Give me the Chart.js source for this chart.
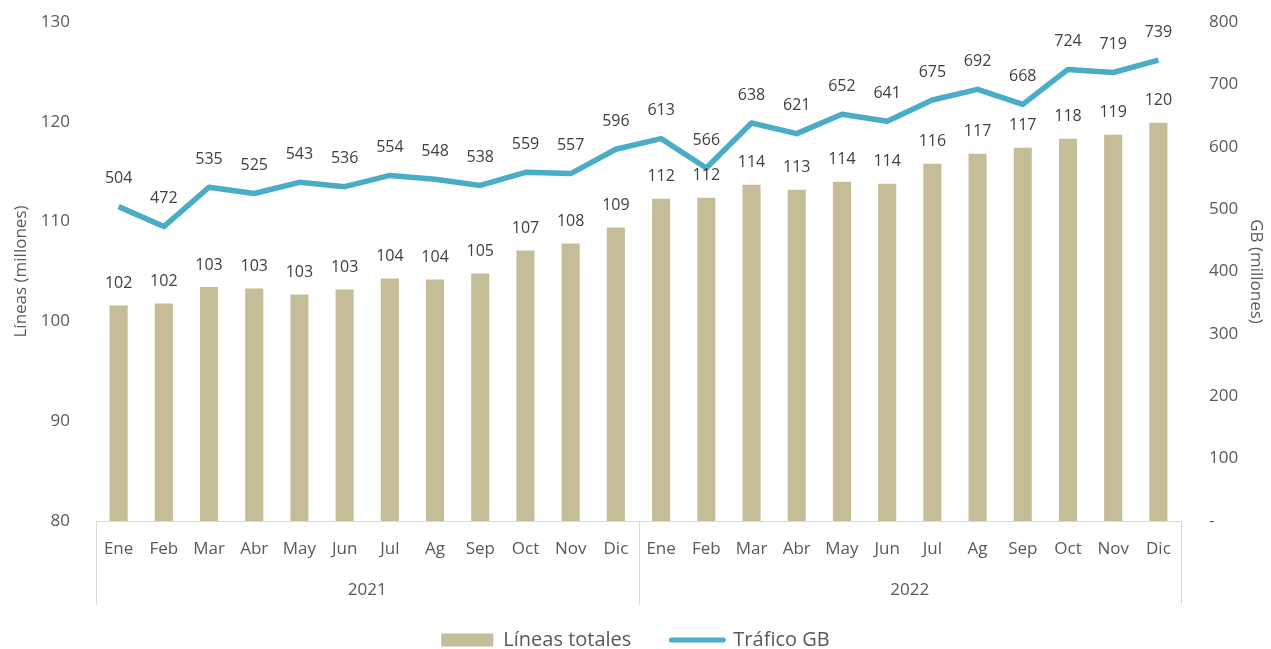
<!DOCTYPE html>
<html>
<head>
<meta charset="utf-8">
<script src="https://cdn.jsdelivr.net/npm/chart.js@4.4.0/dist/chart.umd.min.js"></script>
<style>
  body{margin:0;background:#fff;}
</style>
</head>
<body>
<canvas id="myChart" width="1271" height="649"></canvas>
<script>
// data
var months=["Ene","Feb","Mar","Abr","May","Jun","Jul","Ag","Sep","Oct","Nov","Dic"];
var years=["2021","2022"];
var lineas=[101.6,101.8,103.45,103.3,102.7,103.2,104.3,104.2,104.8,107.1,107.8,109.4,
            112.3,112.4,113.7,113.2,114.0,113.8,115.8,116.8,117.4,118.3,118.7,119.9];
var trafico=[504,472,535,525,543,536,554,548,538,559,557,596,
             613,566,638,621,652,641,675,692,668,724,719,739];
var leftTicks=[80,90,100,110,120,130];
var rightTicks=[0,100,200,300,400,500,600,700,800];

Chart.defaults.font.family="'Open Sans', sans-serif";
Chart.defaults.color="#595959";

// numbers above bars and line points
var valueLabels={
  id:"valueLabels",
  afterDatasetsDraw:function(chart){
    var ctx=chart.ctx;
    ctx.save();
    ctx.font="16px 'Open Sans'";
    ctx.fillStyle="#404040";
    ctx.textAlign="center";
    ctx.textBaseline="middle";
    chart.data.datasets.forEach(function(ds,i){
      var meta=chart.getDatasetMeta(i);
      var off=ds.type==="line"?28:22;
      meta.data.forEach(function(el,j){
        ctx.fillText(Math.round(ds.data[j]),el.x,el.y-off);
      });
    });
    ctx.restore();
  }
};

// second row of the x axis: years with separators
var yearGroups={
  id:"yearGroups",
  afterDraw:function(chart){
    var ctx=chart.ctx, x=chart.scales.x, area=chart.chartArea;
    var top=area.bottom, bottom=area.bottom+84;
    var edges=[area.left];
    for(var g=1;g<years.length;g++){
      edges.push((x.getPixelForValue(g*12-1)+x.getPixelForValue(g*12))/2);
    }
    edges.push(area.right);
    ctx.save();
    ctx.strokeStyle="#D9D9D9";
    ctx.lineWidth=1;
    edges.forEach(function(e){
      var px=Math.round(e)+0.5;
      ctx.beginPath();
      ctx.moveTo(px,top);
      ctx.lineTo(px,bottom);
      ctx.stroke();
    });
    ctx.fillStyle="#595959";
    ctx.font="17px 'Open Sans'";
    ctx.textAlign="center";
    ctx.textBaseline="middle";
    years.forEach(function(y,i){
      ctx.fillText(y,(edges[i]+edges[i+1])/2,area.bottom+69);
    });
    ctx.restore();
  }
};

// fixed axis sizes, no extra padding from tick labels
function fixWidth(w){
  return function(s){
    s.width=w;
    s.paddingTop=10;
    s.paddingBottom=10;
  };
}

var myChart=document.getElementById("myChart").getContext("2d");
var chart=new Chart(myChart,{
  type:"bar",
  data:{
    labels:months.concat(months),
    datasets:[
      {
        type:"bar",
        label:"Líneas totales",
        data:lineas,
        yAxisID:"y",
        backgroundColor:"#C4BD97",
        barPercentage:0.4,
        categoryPercentage:1,
        order:1
      },
      {
        type:"line",
        label:"Tráfico GB",
        data:trafico,
        yAxisID:"y1",
        borderColor:"#4BACC6",
        backgroundColor:"#4BACC6",
        borderWidth:5.5,
        borderJoinStyle:"round",
        pointRadius:0,
        tension:0,
        order:0
      }
    ]
  },
  options:{
    responsive:false,
    animation:false,
    layout:{padding:{top:22,bottom:-11,left:0,right:0}},
    plugins:{
      tooltip:{enabled:false},
      legend:{
        position:"bottom",
        labels:{
          usePointStyle:true,
          pointStyleWidth:52,
          boxHeight:13,
          padding:40,
          color:"#595959",
          font:{size:20},
          generateLabels:function(chart){
            return chart.data.datasets.map(function(ds,i){
              var isLine=ds.type==="line";
              return {
                text:ds.label,
                fillStyle:isLine?ds.borderColor:ds.backgroundColor,
                strokeStyle:isLine?ds.borderColor:ds.backgroundColor,
                lineWidth:isLine?5:0,
                lineCap:"round",
                pointStyle:isLine?"line":"rect",
                fontColor:"#595959",
                datasetIndex:i
              };
            });
          }
        }
      }
    },
    scales:{
      x:{
        grid:{drawOnChartArea:false,drawTicks:false},
        border:{display:true,color:"#D9D9D9",width:1},
        ticks:{color:"#595959",font:{size:17},padding:18,maxRotation:0,autoSkip:false},
        afterFit:function(s){s.height=69;}
      },
      y:{
        position:"left",
        min:leftTicks[0],
        max:leftTicks[leftTicks.length-1],
        grid:{display:false},
        border:{display:false},
        afterBuildTicks:function(s){s.ticks=leftTicks.map(function(v){return {value:v};});},
        ticks:{color:"#595959",font:{size:17},padding:18},
        title:{display:true,text:"Líneas (millones)",color:"#595959",font:{size:17},padding:{top:11,bottom:0}},
        afterFit:fixWidth(96)
      },
      y1:{
        position:"right",
        min:rightTicks[0],
        max:rightTicks[rightTicks.length-1],
        grid:{display:false},
        border:{display:false},
        afterBuildTicks:function(s){s.ticks=rightTicks.map(function(v){return {value:v};});},
        ticks:{color:"#595959",font:{size:17},padding:20,callback:function(v){return v===0?"-":v;}},
        title:{display:true,text:"GB (millones)",color:"#595959",font:{size:17},padding:{top:5,bottom:0}},
        afterFit:fixWidth(90)
      }
    }
  },
  plugins:[valueLabels,yearGroups]
});
</script>
</body>
</html>
